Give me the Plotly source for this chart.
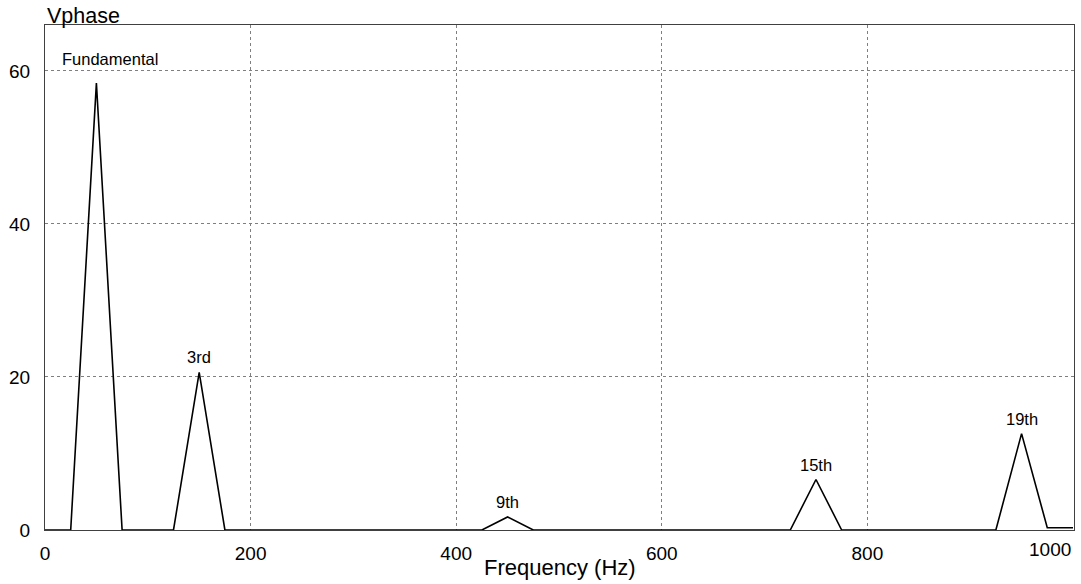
import plotly.graph_objects as go

# Spectrum samples (Hz, V)
freq = [0, 25, 50, 75, 100, 125, 150, 175, 200, 400, 425, 450, 475, 500,
        700, 725, 750, 775, 800, 900, 925, 950, 975, 1000]
vphase = [0, 0, 58.4, 0, 0, 0, 20.6, 0, 0, 0, 0, 1.7, 0, 0,
          0, 0, 6.6, 0, 0, 0, 0, 12.6, 0.3, 0.3]

# Harmonic labels
label_text = ["Fundamental", "3rd", "9th", "15th", "19th"]
label_freq = [50, 150, 450, 750, 950]
label_peak = [58.4, 20.6, 1.7, 6.6, 12.6]

x_tickvals = [0, 200, 400, 600, 800]
x_ticktext = ["0", "200", "400", "600", "800"]
x_last_tick = 1000
y_tickvals = [0, 20, 40, 60]

FONT = "Liberation Sans, Arial"

fig = go.Figure()
fig.add_trace(go.Scatter(x=freq, y=vphase, mode="lines",
                         line=dict(color="black", width=1.6),
                         showlegend=False, hoverinfo="skip"))

annotations = []
for t, fx, py in zip(label_text, label_freq, label_peak):
    a = dict(x=fx, y=py, text=t, showarrow=False, yanchor="bottom",
             yshift=4, font=dict(family=FONT, size=16.5, color="black"))
    if t == "Fundamental":
        a.update(x=15, y=61.5, xanchor="left", yanchor="middle", yshift=0)
    annotations.append(a)

annotations.append(dict(x=x_last_tick, y=0, xref="x", yref="y", text=str(x_last_tick),
                        showarrow=False, xanchor="right", yanchor="top", yshift=-7,
                        font=dict(family=FONT, size=19, color="black")))
annotations.append(dict(x=0, y=1, xref="paper", yref="paper", text="Vphase",
                        showarrow=False, xanchor="left", yanchor="bottom", yshift=-5,
                        font=dict(family=FONT, size=21.5, color="black")))
annotations.append(dict(x=0.5, y=0, xref="paper", yref="paper", text="Frequency (Hz)",
                        showarrow=False, xanchor="center", yanchor="top", yshift=-23,
                        font=dict(family=FONT, size=22, color="black")))

fig.update_layout(
    width=1081, height=584,
    margin=dict(l=45, r=7, t=25, b=54),
    paper_bgcolor="white", plot_bgcolor="white",
    font=dict(family=FONT, size=19, color="black"),
    annotations=annotations,
    xaxis=dict(range=[0, 1001], tickvals=x_tickvals, ticktext=x_ticktext,
               showgrid=True, gridcolor="#7f7f7f", griddash="dot", gridwidth=1,
               showline=True, linecolor="#404040", linewidth=1, mirror=True,
               zeroline=False, ticks="", ticklabelstandoff=6),
    yaxis=dict(range=[0, 66], tickvals=y_tickvals,
               showgrid=True, gridcolor="#7f7f7f", griddash="dot", gridwidth=1,
               showline=True, linecolor="#404040", linewidth=1, mirror=True,
               zeroline=False, ticks="", ticklabelstandoff=10),
)

fig.write_html("out.html", config={"displayModeBar": False},
               post_script="document.body.style.margin='0';document.body.style.overflow='hidden';")
